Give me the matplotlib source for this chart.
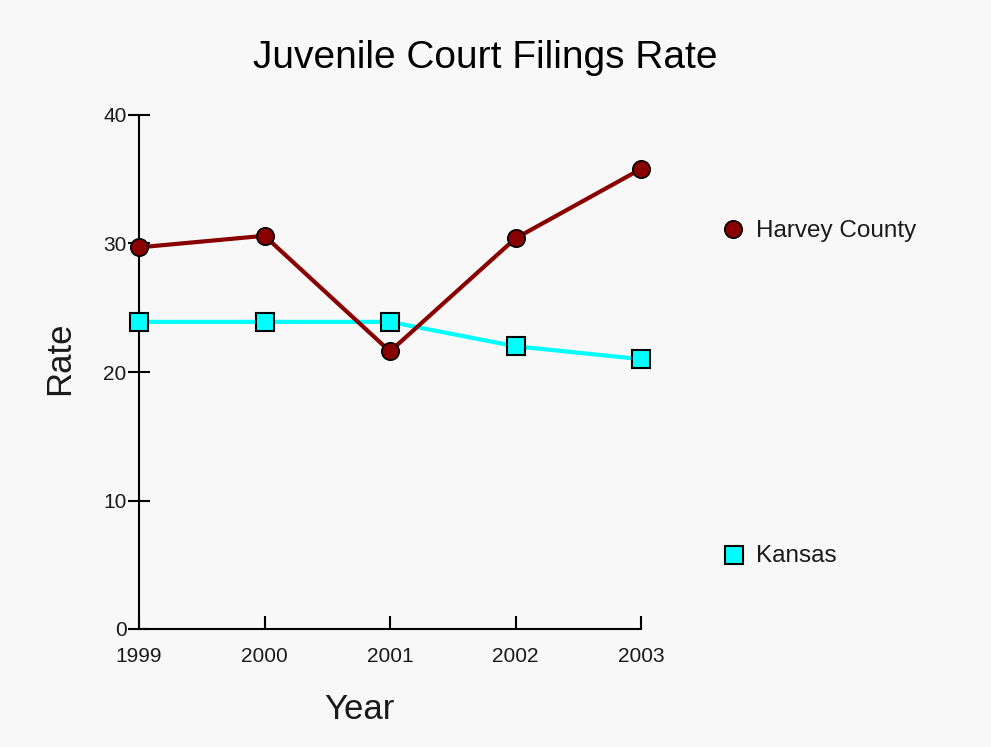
import matplotlib
matplotlib.use("Agg")
import matplotlib.pyplot as plt
from matplotlib.lines import Line2D

plt.rcParams["font.family"] = ["Liberation Sans", "DejaVu Sans"]

years = [1999, 2000, 2001, 2002, 2003]
harvey = [29.7, 30.6, 21.6, 30.4, 35.8]
kansas = [23.9, 23.9, 23.9, 22.0, 21.0]
y_ticks = [0, 10, 20, 30, 40]

bg = "#f8f8f8"
harvey_color = "#880000"
kansas_color = "#00ffff"
text_color = "#1a1a1a"

W, H = 991, 747
fig = plt.figure(figsize=(W / 100, H / 100), dpi=100, facecolor=bg)
ax = fig.add_axes([139 / W, 1 - 629 / H, 502 / W, 514 / H], facecolor=bg)

ax.plot(years, kansas, color=kansas_color, lw=3, marker="s", ms=13.5,
        mfc=kansas_color, mec="black", mew=1.5, clip_on=False, zorder=3)
ax.plot(years, harvey, color=harvey_color, lw=3, marker="o", ms=12.5,
        mfc=harvey_color, mec="black", mew=1.2, clip_on=False, zorder=4)

ax.set_xlim(1999, 2003)
ax.set_ylim(0, 40)
ax.set_xticks(years)
ax.set_xticklabels([str(y) for y in years])
ax.set_yticks(y_ticks)
ax.set_yticklabels([str(t) for t in y_ticks])

for side in ("top", "right"):
    ax.spines[side].set_visible(False)
for side in ("left", "bottom"):
    ax.spines[side].set_color("black")
    ax.spines[side].set_linewidth(1.5)

ax.tick_params(axis="y", direction="inout", length=16, width=1.5,
               labelsize=15, pad=1, labelcolor=text_color)
ax.tick_params(axis="x", direction="in", length=9.5, width=1.5,
               labelsize=15, pad=13, labelcolor=text_color)

fig.text(359 / W, 1 - 719 / H, "Year", ha="center", va="baseline",
         fontsize=25, color=text_color)
fig.text(60 / W, 1 - 358 / H, "Rate", ha="center", va="center",
         rotation=90, fontsize=25, color=text_color)
fig.text(485 / W, 1 - 68 / H, "Juvenile Court Filings Rate",
         ha="center", va="baseline", fontsize=28, color="black")

# Legend entries placed beside the plot area
fig.add_artist(Line2D([733 / W], [1 - 229 / H], transform=fig.transFigure,
                      marker="o", ms=12.5, mfc=harvey_color, mec="black",
                      mew=1.2, ls="none"))
fig.text(756 / W, 1 - 237 / H, "Harvey County", ha="left", va="baseline",
         fontsize=17.5, color=text_color)
fig.add_artist(Line2D([733.5 / W], [1 - 554.5 / H], transform=fig.transFigure,
                      marker="s", ms=13.5, mfc=kansas_color, mec="black",
                      mew=1.5, ls="none"))
fig.text(756 / W, 1 - 562 / H, "Kansas", ha="left", va="baseline",
         fontsize=17.5, color=text_color)

fig.savefig("out.png", dpi=100, facecolor=bg)
